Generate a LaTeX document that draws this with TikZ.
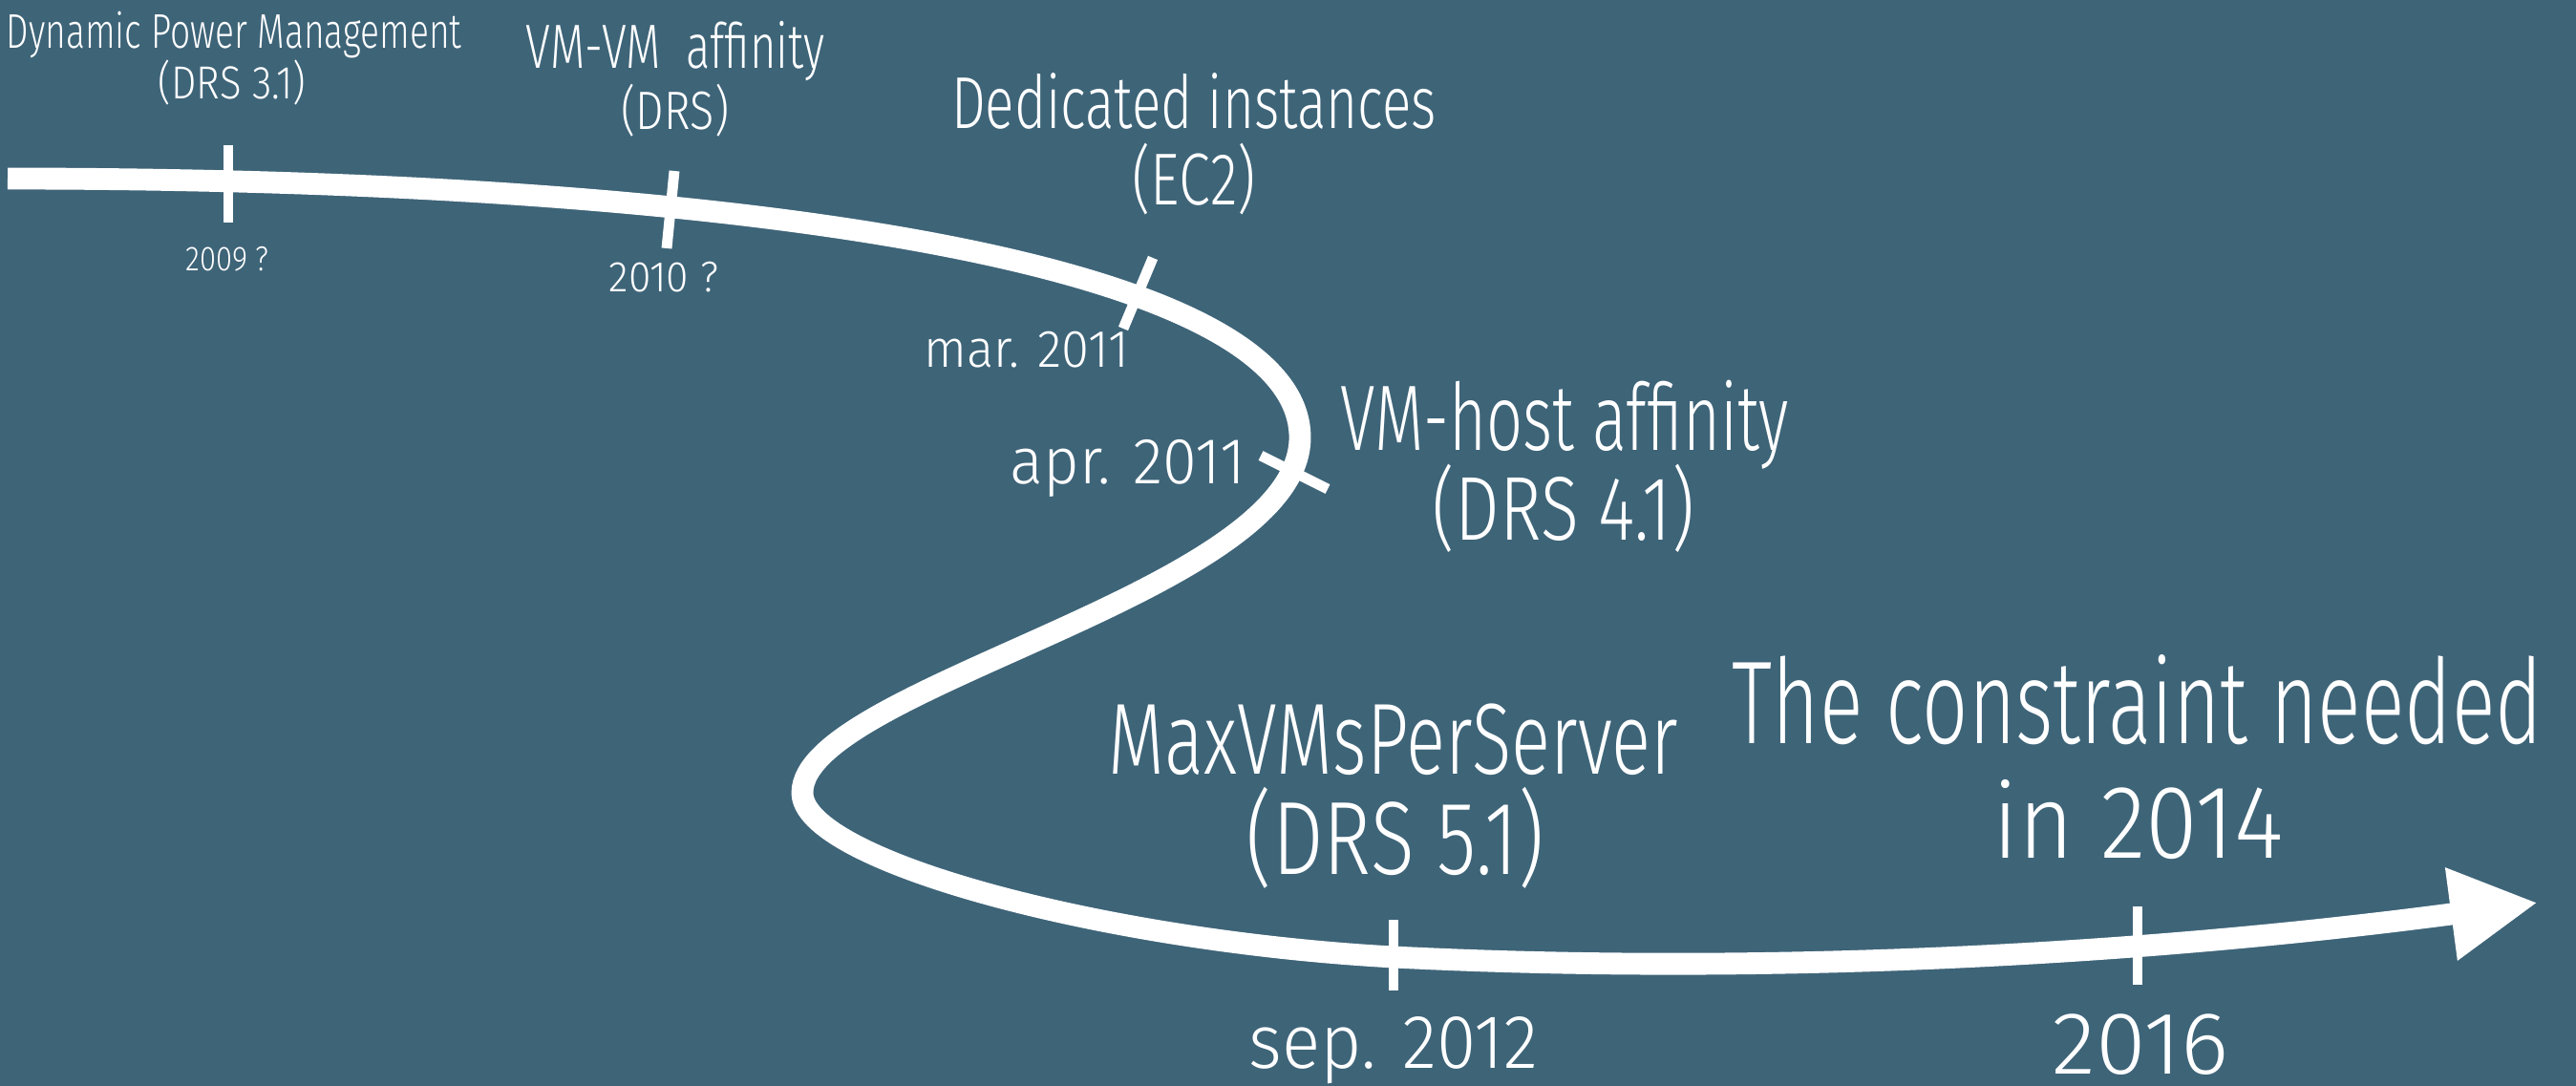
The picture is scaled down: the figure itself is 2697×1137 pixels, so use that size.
\documentclass[tikz,border=0pt]{standalone}
\usepackage{graphicx}
\usepackage{fontspec}
\setmainfont{Fira Sans Light}[FakeStretch=0.70]
\usetikzlibrary{arrows.meta}
\definecolor{bg}{RGB}{62,100,120}
\newcommand{\hsq}[2]{\scalebox{#1}[1]{#2}}
\begin{document}
\begin{tikzpicture}[x=0.01cm,y=-0.01cm,
  lab/.style={text=white, inner sep=0pt, anchor=base, font=\fontsize{#1}{#1}\selectfont},
  ticksty/.style={draw=white, line width=3.1pt},
  timeline/.style={draw=white, line width=6.5pt}]
\fill[bg] (0,0) rectangle (2697,1137);
\useasboundingbox (0,0) rectangle (2697,1137);

% timeline
\coordinate (start) at (8,187);
\coordinate (east) at (1361,458);
\coordinate (west) at (840,830);
\coordinate (sep) at (1459,1002);
\coordinate (tip) at (2657,945);
\draw[timeline, -{Triangle[length=26pt, width=26pt]}]
  (start) .. controls (800,187) and (1361,280) .. (east)
          .. controls (1361,620) and (840,720) .. (west)
          .. controls (840,900) and (1150,985) .. (sep)
          .. controls (1859,1022) and (2257,998) .. (tip);

% ticks
\coordinate (t1a) at (239,152);  \coordinate (t1b) at (239,233);
\coordinate (t2a) at (706,179);  \coordinate (t2b) at (698,260);
\coordinate (t3a) at (1207,270); \coordinate (t3b) at (1176,344);
\coordinate (t4a) at (1320,477); \coordinate (t4b) at (1390,512);
\coordinate (t5a) at (1459,963); \coordinate (t5b) at (1459,1037);
\coordinate (t6a) at (2238,949); \coordinate (t6b) at (2238,1031);
\draw[ticksty] (t1a) -- (t1b);
\draw[ticksty] (t2a) -- (t2b);
\draw[ticksty] (t3a) -- (t3b);
\draw[ticksty] (t4a) -- (t4b);
\draw[ticksty] (t5a) -- (t5b);
\draw[ticksty] (t6a) -- (t6b);

% event labels
\node[lab=14.5pt] (dpmA) at (245,51) {\hsq{1.04}{Dynamic Power Management}};
\node[lab=13.8pt] (dpmB) at (243,104) {\hsq{1.23}{(DRS 3.1)}};
\node[lab=18.6pt] (vmvmA) at (707,72) {\hsq{1.03}{VM-VM\ \ affinity}};
\node[lab=16.1pt] (vmvmB) at (707,136) {\hsq{1.18}{(DRS)}};
\node[lab=21.9pt] (dedA) at (1250,135) {\hsq{1.05}{Dedicated instances}};
\node[lab=21.9pt] (dedB) at (1250,215) {\hsq{1.10}{(EC2)}};
\node[lab=27.7pt] (vmhA) at (1638,472) {\hsq{0.98}{VM-host affinity}};
\node[lab=27.0pt] (vmhB) at (1637,566) {\hsq{1.11}{(DRS 4.1)}};
\node[lab=30.1pt] (maxA) at (1459,810) {\hsq{1.03}{MaxVMsPerServer}};
\node[lab=31.0pt] (maxB) at (1461,915) {\hsq{1.11}{(DRS 5.1)}};
\node[lab=35.1pt] (conA) at (2238,778) {\hsq{0.98}{The constraint needed}};
\node[lab=31.0pt] (conB) at (2239,898) {\hsq{1.30}{in 2014}};

% date labels
\node[lab=10.3pt] (d2009) at (238,284) {\hsq{1.22}{2009 ?}};
\node[lab=12.8pt] (d2010) at (695,306) {\hsq{1.35}{2010 ?}};
\node[lab=15.7pt] (dmar) at (1075,385) {\hsq{1.36}{mar. 2011}};
\node[lab=19.4pt] (dapr) at (1181,507) {\hsq{1.36}{apr. 2011}};
\node[lab=22.7pt] (dsep) at (1459,1118) {\hsq{1.34}{sep. 2012}};
\node[lab=26.4pt] (d2016) at (2241,1124) {\hsq{1.47}{2016}};
\end{tikzpicture}
\end{document}
